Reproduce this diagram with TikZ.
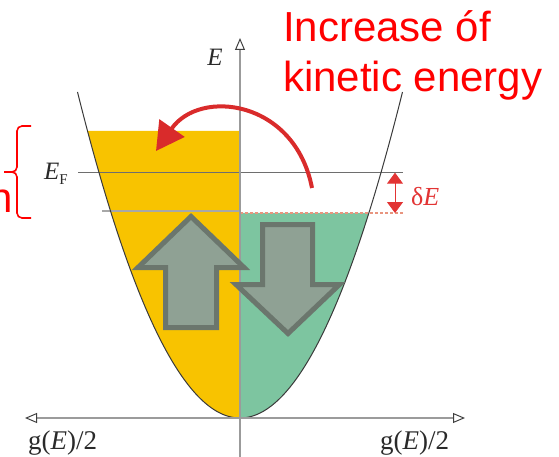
\documentclass[tikz,border=0pt]{standalone}
\usepackage{fontspec}
\setmainfont{Liberation Serif}
\newfontfamily\arialf{Liberation Sans}
\usetikzlibrary{arrows.meta}
\definecolor{yellowfill}{HTML}{F8C300}
\definecolor{greenfill}{HTML}{7DC5A0}
\definecolor{axisgray}{HTML}{9B9B9B}
\definecolor{efgray}{HTML}{6E6E6E}
\definecolor{lowgray}{HTML}{A8A8A8}
\definecolor{curvecol}{HTML}{3A3A3A}
\definecolor{dashcol}{HTML}{E8957F}
\definecolor{deltared}{HTML}{E23434}
\definecolor{brightred}{HTML}{FF0000}
\definecolor{arcred}{HTML}{D92B2B}
\definecolor{spinfill}{HTML}{8FA194}
\definecolor{spinedge}{HTML}{6B766D}
\definecolor{labelcol}{HTML}{2A2A2A}
\tikzset{
  axisline/.style={draw=axisgray, line width=1.6pt},
  axistip/.style={-{Triangle[open,length=12pt,width=10pt,color=black!75,line width=1pt]}},
  spinarrow/.style={fill=spinfill, draw=spinedge, line width=5pt, line join=miter},
  redtext/.style={text=brightred, inner sep=0pt, font=\arialf\fontsize{42}{50}\selectfont},
  mathlabel/.style={text=labelcol, inner sep=0pt, font=\fontsize{25}{30}\selectfont},
  glabel/.style={text=labelcol, inner sep=0pt, font=\fontsize{27}{32}\selectfont},
}
\begin{document}
\begin{tikzpicture}[x=1pt,y=-1pt]
\useasboundingbox (0,0) rectangle (559,457);
% fills
\fill[yellowfill] (240,131) -- (87.5,131) -- plot[domain=-152.5:0,samples=60] ({240+\x},{418-(\x/9)^2}) -- cycle;
\fill[greenfill] plot[domain=0:128.9,samples=60] ({240+\x},{418-(\x/9)^2}) -- (240,213) -- cycle;
% level lines
\coordinate (efl) at (78,172.7);
\coordinate (efr) at (403,172.7);
\coordinate (lowl) at (102,211);
\coordinate (lowm) at (240,211);
\coordinate (dashl) at (240,213);
\coordinate (dashr) at (403,213);
\draw[efgray, line width=1.3pt] (efl) -- (efr);
\draw[lowgray, line width=1.6pt] (lowl) -- (lowm);
\draw[dashcol, line width=1.3pt, dash pattern=on 3pt off 2pt] (dashl) -- (dashr);
% parabola
\draw[curvecol, line width=1pt] plot[domain=-162.5:162.5,samples=120,smooth] ({240+\x},{418-(\x/9)^2});
% axes
\coordinate (vbot) at (240,470);
\coordinate (vtop) at (240,38);
\coordinate (hl) at (25,418);
\coordinate (hr) at (465,418);
\draw[axisline, axistip] (vbot) -- (vtop);
\draw[axisline, {Triangle[open,length=12pt,width=10pt,color=black!75,line width=1pt]}-{Triangle[open,length=12pt,width=10pt,color=black!75,line width=1pt]}] (hl) -- (hr);
% spin arrows
\draw[spinarrow] (191,216.5) -- (244,267.5) -- (216.5,267.5) -- (216.5,327.5) -- (165.5,327.5) -- (165.5,267.5) -- (138,267.5) -- cycle;
\draw[spinarrow] (262.5,224.5) -- (312.5,224.5) -- (312.5,284.5) -- (339.5,284.5) -- (288,333.5) -- (236,284.5) -- (262.5,284.5) -- cycle;
% delta E arrow
\coordinate (dtop) at (395,172.7);
\coordinate (dbot) at (395,213);
\draw[deltared, line width=1pt, {Triangle[length=11pt,width=16pt]}-{Triangle[length=11pt,width=16pt]}] (dtop) -- (dbot);
\node[anchor=base west, inner sep=0pt, text=deltared, font=\fontsize{26}{30}\selectfont] (dE) at (411,205) {δ\textit{E}};
% curved red arrow
\coordinate (arcs) at (312,188);
\coordinate (arce) at (156,151);
\draw[arcred, line width=4pt, -{Triangle[length=28pt,width=30pt]}] (arcs) .. controls (295,100) and (200,88) .. (arce);
% bracket
\draw[brightred, line width=1.6pt] (31,126) -- (22,126) to[out=180,in=90] (17,131) -- (17,167) to[out=-90,in=0] (12,172) -- (4,172);
\draw[brightred, line width=1.6pt] (12,172) to[out=0,in=90] (17,177) -- (17,213) to[out=-90,in=180] (22,218) -- (31,218);
% texts
\node[redtext, anchor=base west] (t1) at (283,42) {Increase óf};
\node[redtext, anchor=base west] (t2) at (283,92) {kinetic energy};
\node[redtext, anchor=base east] (tn) at (13,212) {n};
\node[mathlabel] (E) at (215,57) {\textit{E}};
\node[mathlabel, anchor=base west] (EF) at (44,180) {\textit{E}\raisebox{-0.2em}{\fontsize{15}{15}\selectfont F}};
\node[glabel, anchor=base west] (gl) at (28,449) {g(\textit{E})/2};
\node[glabel, anchor=base west] (gr) at (380,449) {g(\textit{E})/2};
\end{tikzpicture}
\end{document}
